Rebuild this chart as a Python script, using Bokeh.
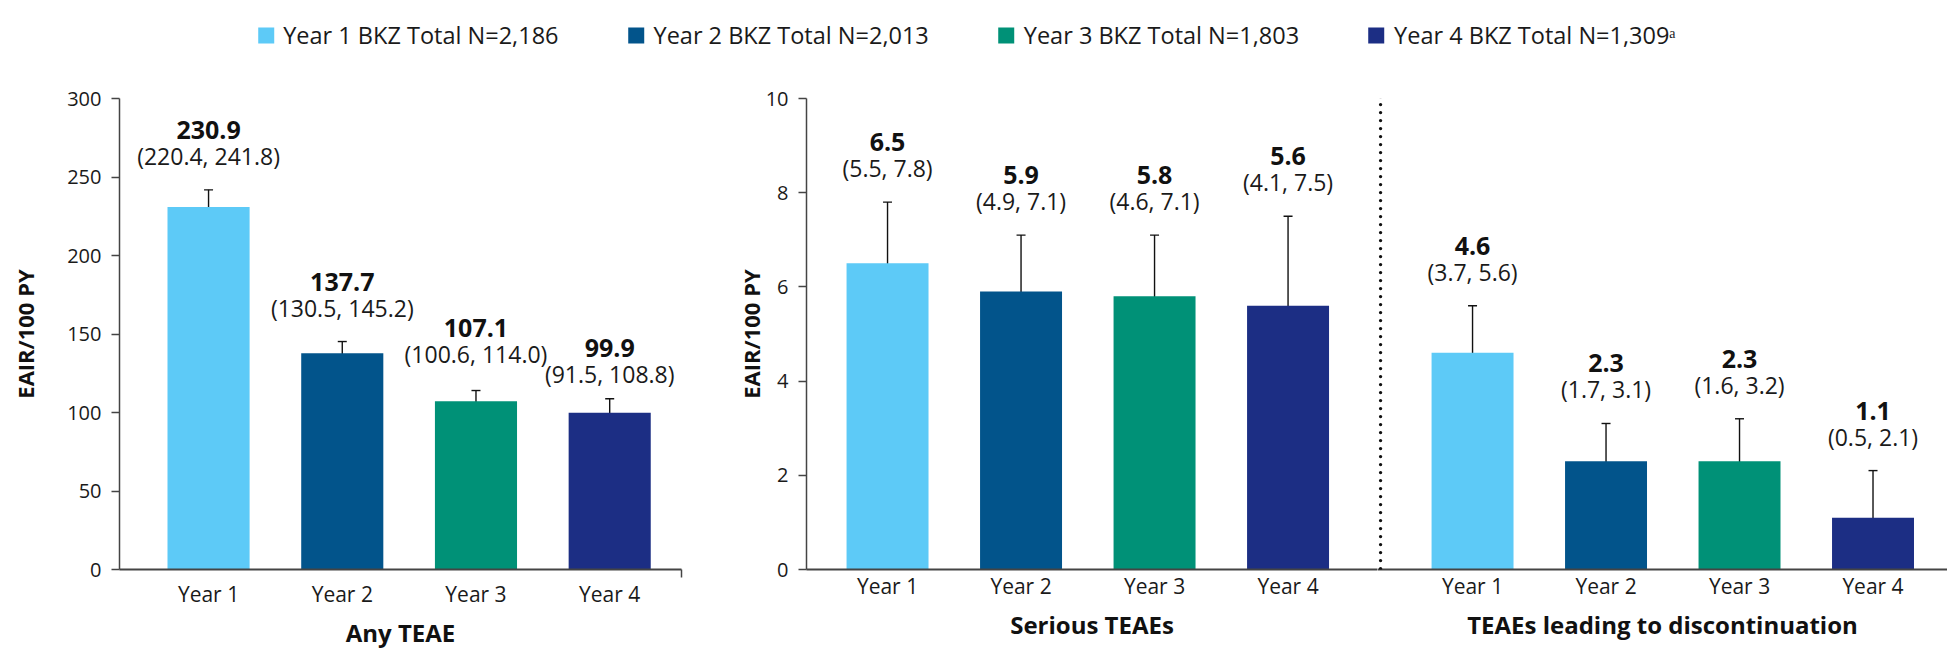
from bokeh.plotting import figure
from bokeh.models import (ColumnDataSource, Range1d, FixedTicker, Whisker, TeeHead,
                          Legend, LegendItem, Arrow)
from bokeh.layouts import column, row
from bokeh.embed import file_html
from bokeh.resources import INLINE
from bokeh.core.properties import value

# ---------------- data ----------------
years = ["Year 1", "Year 2", "Year 3", "Year 4"]
n_totals = ["2,186", "2,013", "1,803", "1,309"]
n_marks = ["", "", "", "\u1d43"]
colors = ["#5DCAF7", "#02548B", "#009177", "#1C2E84"]

any_teae = [230.9, 137.7, 107.1, 99.9]
any_teae_lo = [220.4, 130.5, 100.6, 91.5]
any_teae_hi = [241.8, 145.2, 114.0, 108.8]

serious = [6.5, 5.9, 5.8, 5.6]
serious_lo = [5.5, 4.9, 4.6, 4.1]
serious_hi = [7.8, 7.1, 7.1, 7.5]

discont = [4.6, 2.3, 2.3, 1.1]
discont_lo = [3.7, 1.7, 1.6, 0.5]
discont_hi = [5.6, 3.1, 3.2, 2.1]

panel_titles = ["Any TEAE", "Serious TEAEs", "TEAEs leading to discontinuation"]
y_label = "EAIR/100 PY"
ticks_any = [0, 50, 100, 150, 200, 250, 300]
ticks_rate = [0, 2, 4, 6, 8, 10]

# layout-only: extra vertical nudge (px) of the value labels so neighbours don't collide
nudge_any = [0, 0, -3, 9]
nudge_none = [0, 0, 0, 0]

FONT = "Open Sans"
AXIS_COL = "#444444"
TXT = "#1a1a1a"
FIG_H = 592


def panel(width, x_start, x_end, y_end, yticks, vals, lo, hi, title,
          b_left, b_right, show_y, y_label_standoff, end_tick, nudge):
    xs = list(range(1, len(years) + 1))
    src = ColumnDataSource(dict(
        x=xs, top=vals, lo=lo, hi=hi, color=colors,
        vtxt=[f"{v:.1f}" for v in vals],
        ctxt=[f"({a:.1f}, {b:.1f})" for a, b in zip(lo, hi)],
        voff=[-60 + n for n in nudge],
        coff=[-34 + n for n in nudge],
    ))
    p = figure(width=width, height=FIG_H,
               x_range=Range1d(x_start, x_end), y_range=Range1d(0, y_end),
               toolbar_location=None, output_backend="svg",
               y_axis_location="left" if show_y else None,
               min_border_left=b_left, min_border_right=b_right,
               min_border_top=28, min_border_bottom=93)
    p.outline_line_color = None
    p.grid.visible = False
    p.background_fill_color = "white"
    p.border_fill_color = "white"

    p.vbar(x="x", top="top", width=0.614, fill_color="color", line_color=None, source=src)
    w = Whisker(base="x", upper="hi", lower="lo", source=src,
                line_color="#111111", line_width=1.4,
                upper_head=TeeHead(size=9, line_color="#111111", line_width=1.4),
                lower_head=TeeHead(size=9, line_color="#111111", line_width=1.4))
    p.add_layout(w)

    p.text(x="x", y="hi", text="vtxt", source=src, y_offset="voff",
           text_align="center", text_baseline="middle",
           text_font=value(FONT), text_font_style="bold",
           text_font_size="25px", text_color="#111111")
    p.text(x="x", y="hi", text="ctxt", source=src, y_offset="coff",
           text_align="center", text_baseline="middle",
           text_font=value(FONT), text_font_size="23px", text_color=TXT)

    xa = p.xaxis[0]
    xa.ticker = FixedTicker(ticks=xs, minor_ticks=[x_end] if end_tick else [])
    xa.major_label_overrides = {x: years[i] for i, x in enumerate(xs)}
    xa.major_tick_out = 0
    xa.major_tick_in = 0
    xa.minor_tick_in = 0
    xa.minor_tick_out = 8 if end_tick else 0
    xa.minor_tick_line_color = AXIS_COL
    xa.minor_tick_line_width = 1.5
    xa.axis_line_color = AXIS_COL
    xa.axis_line_width = 2
    xa.major_label_text_font = FONT
    xa.major_label_text_font_size = "21px"
    xa.major_label_text_color = TXT
    xa.major_label_standoff = 2
    xa.axis_label = title
    xa.axis_label_text_font = FONT
    xa.axis_label_text_font_style = "bold"
    xa.axis_label_text_font_size = "24px"
    xa.axis_label_text_color = "#111111"
    xa.axis_label_standoff = 5

    if show_y:
        ya = p.yaxis[0]
        ya.ticker = FixedTicker(ticks=yticks)
        ya.minor_tick_line_color = None
        ya.major_tick_out = 8
        ya.major_tick_in = 0
        ya.major_tick_line_color = AXIS_COL
        ya.major_tick_line_width = 1.3
        ya.axis_line_color = AXIS_COL
        ya.axis_line_width = 1.5
        ya.major_label_text_font = FONT
        ya.major_label_text_font_size = "20px"
        ya.major_label_text_color = TXT
        ya.major_label_standoff = 10
        ya.axis_label = y_label
        ya.axis_label_text_font = FONT
        ya.axis_label_text_font_style = "bold"
        ya.axis_label_text_font_size = "22px"
        ya.axis_label_text_color = "#111111"
        ya.axis_label_standoff = y_label_standoff
    return p


# ---------------- legend strip ----------------
leg = figure(width=1947, height=70, toolbar_location=None, output_backend="svg",
             x_range=Range1d(0, 1), y_range=Range1d(0, 1),
             x_axis_location=None, y_axis_location=None,
             min_border=0, min_border_right=16)
leg.grid.visible = False
leg.outline_line_color = None
nan = float("nan")
leg_src = ColumnDataSource(dict(x=[nan] * len(years), top=[nan] * len(years), color=colors))
leg_r = leg.vbar(x="x", top="top", width=1, fill_color="color", line_color=None, source=leg_src)
items = [LegendItem(label=f"{years[i]} BKZ Total N={n_totals[i]}{n_marks[i]}",
                    renderers=[leg_r], index=i) for i in range(len(years))]
legend = Legend(items=items, orientation="horizontal", location="center",
                spacing=67, label_standoff=8, glyph_width=20, glyph_height=20,
                label_text_font=FONT, label_text_font_size="23.5px",
                label_text_color=TXT, border_line_color=None,
                background_fill_alpha=0, padding=0, margin=0)
leg.add_layout(legend, "center")

# ---------------- panels ----------------
pa = panel(700, 0.334, 4.537, 300, ticks_any, any_teae, any_teae_lo, any_teae_hi,
           panel_titles[0], 119, 19, True, 24, True, nudge_any)
pb = panel(677, 0.393, 4.670, 10, ticks_rate, serious, serious_lo, serious_hi,
           panel_titles[1], 106, 0, True, -3, False, nudge_none)
pc = panel(570, 0.288, 4.558, 10, ticks_rate, discont, discont_lo, discont_hi,
           panel_titles[2], 0, 0, False, 0, False, nudge_none)
pc.y_range = pb.y_range

divider_x = 0.311
pc.add_layout(Arrow(end=None, x_start=divider_x, y_start=10.04, x_end=divider_x, y_end=-1.9,
                    line_color="#111111", line_width=3.4, line_dash="0 8", line_cap="round"))

layout = column(leg, row(pa, pb, pc))
open("out.html", "w").write(file_html(layout, INLINE))
